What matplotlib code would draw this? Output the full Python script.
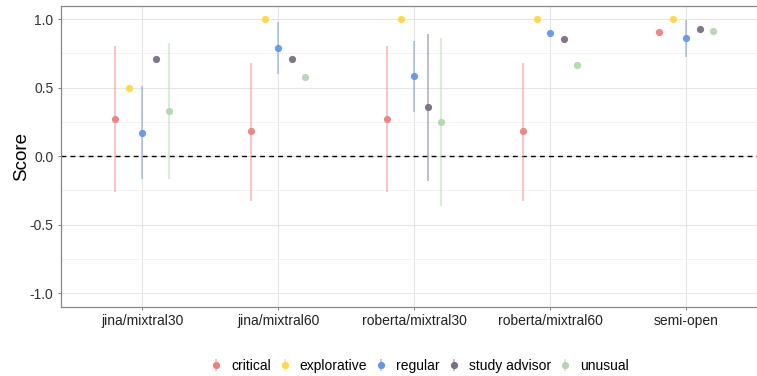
import numpy as np
import matplotlib
matplotlib.use("Agg")
import matplotlib.pyplot as plt
from matplotlib.lines import Line2D
from matplotlib.legend_handler import HandlerTuple

plt.rcParams['font.family'] = ['Liberation Sans', 'DejaVu Sans']

categories = ["jina/mixtral30", "jina/mixtral60", "roberta/mixtral30", "roberta/mixtral60", "semi-open"]
series = ["critical", "explorative", "regular", "study advisor", "unusual"]
colors = ["#F08080", "#FFD93F", "#6495ED", "#7A6E84", "#B3D6B0"]

nan = np.nan
mean = {
    "critical":      [0.27, 0.18, 0.27, 0.18, 0.907],
    "explorative":   [0.50, 1.00, 1.00, 1.00, 1.00],
    "regular":       [0.17, 0.79, 0.584, 0.895, 0.859],
    "study advisor": [0.71, 0.71, 0.355, 0.854, 0.927],
    "unusual":       [0.33, 0.58, 0.25, 0.664, 0.915],
}
lower = {
    "critical":      [-0.26, -0.33, -0.26, -0.33, nan],
    "explorative":   [nan, nan, nan, nan, nan],
    "regular":       [-0.17, 0.60, 0.32, nan, 0.725],
    "study advisor": [nan, nan, -0.18, nan, nan],
    "unusual":       [-0.17, nan, -0.365, nan, nan],
}
upper = {
    "critical":      [0.80, 0.68, 0.80, 0.68, nan],
    "explorative":   [nan, nan, nan, nan, nan],
    "regular":       [0.51, 0.976, 0.84, nan, 0.993],
    "study advisor": [nan, nan, 0.89, nan, nan],
    "unusual":       [0.825, nan, 0.86, nan, nan],
}
yticks = [-1.0, -0.5, 0.0, 0.5, 1.0]
ytick_labels = ["-1.0", "-0.5", "0.0", "0.5", "1.0"]

fig = plt.figure(figsize=(7.57, 3.76), dpi=100)
ax = fig.add_axes([60.5 / 757, 69.3 / 376, 1 - 60.5 / 757, (306.7 - 6) / 376])

xs = np.arange(1, len(categories) + 1)
offsets = np.linspace(-0.2, 0.2, len(series))

handles = []
for s, off, c in zip(series, offsets, colors):
    m = np.array(mean[s], dtype=float)
    lo = np.array(lower[s], dtype=float)
    hi = np.array(upper[s], dtype=float)
    ok = ~np.isnan(lo)
    ax.vlines(xs[ok] + off, lo[ok], hi[ok], color=c, alpha=0.5, lw=1.3, zorder=3)
    ax.plot(xs + off, m, 'o', color=c, ms=5.2, mec='none', alpha=0.95, zorder=4)
    h = (Line2D([], [], color=c, alpha=0.5, marker='|', ms=8, mew=1.3, ls='none'),
         Line2D([], [], color=c, marker='o', ms=5.2, mec='none', ls='none'))
    handles.append(h)

ax.axhline(0, color='black', lw=1.0, ls=(0, (3.5, 3)), zorder=2)

ax.set_xlim(0.4, 5.52)
ax.set_ylim(-1.1, 1.095)
ax.set_xticks(xs)
ax.set_xticklabels(categories, fontsize=10, color='#222222')
ax.set_yticks(yticks)
ax.set_yticklabels(ytick_labels, fontsize=10, color='#333333')
ax.set_yticks([-0.75, -0.25, 0.25, 0.75], minor=True)
ax.tick_params(axis='both', which='major', length=2.5, width=0.6, color='#666666', pad=2.5)
ax.tick_params(axis='y', which='minor', length=0)
ax.grid(True, which='major', color='#E6E6E6', lw=0.8, zorder=0)
ax.grid(True, which='minor', axis='y', color='#F0F0F0', lw=0.6, zorder=0)
ax.set_axisbelow(True)
ax.set_ylabel("Score", fontsize=13.5, labelpad=0)

for side in ['left', 'top', 'bottom']:
    ax.spines[side].set_color('#888888')
    ax.spines[side].set_linewidth(0.9)
ax.spines['right'].set_visible(False)

fig.legend(handles, series, loc='center', bbox_to_anchor=(419 / 757, 1 - 366 / 376),
           ncol=5, frameon=False, fontsize=10, handler_map={tuple: HandlerTuple(ndivide=1)},
           handlelength=1.0, handletextpad=0.6, columnspacing=0.5)

fig.savefig("out.png", dpi=100)
